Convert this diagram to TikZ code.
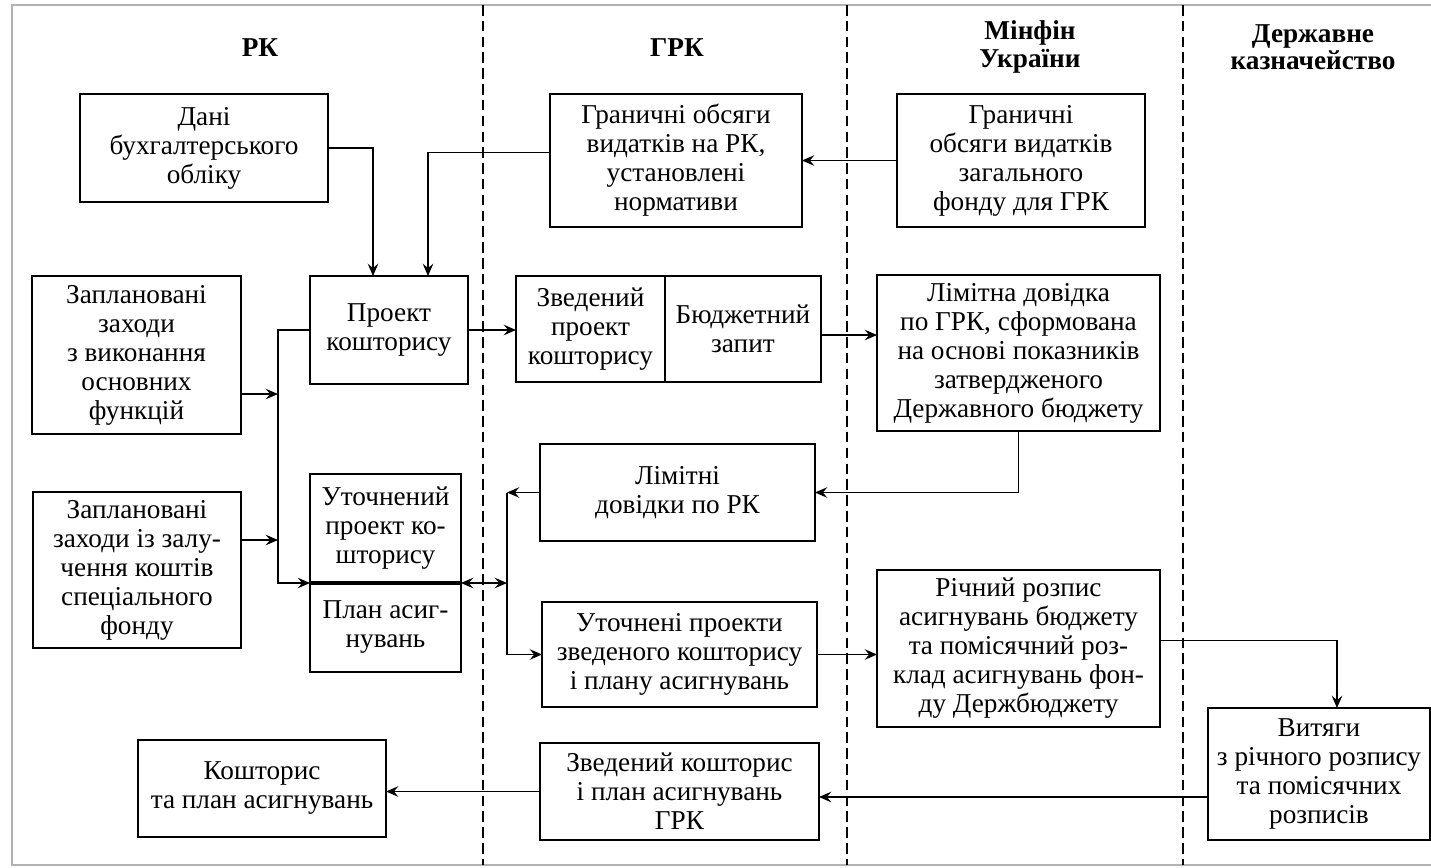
\documentclass[tikz,border=0pt]{standalone}
\usepackage{fontspec}
\setmainfont{LiberationSerif}[Extension=.ttf, UprightFont=*-Regular, BoldFont=*-Bold, ItalicFont=*-Italic, BoldItalicFont=*-BoldItalic]
\usepackage{tikz}
\usetikzlibrary{arrows.meta, positioning, calc}

\begin{document}
\begin{tikzpicture}[
    x=0.02cm, y=-0.02cm,
    box/.style={draw, rectangle, line width=1pt, outer sep=0pt, text centered, align=center, inner sep=1pt, font=\fontsize{15.5}{16.5}\selectfont},
    head/.style={align=center, font=\fontsize{15.5}{15.5}\selectfont\bfseries},
    arrow/.style={->, line width=0.8pt},
    lane/.style={line width=0.8pt, dash pattern=on 6pt off 3pt},
    >={Stealth[length=7pt,width=6pt,inset=2.5pt]}
]
\useasboundingbox (0,0) rectangle (1431,867);

% Frame and lanes
\draw[gray!60, line width=1.4pt] (1431,5) -- (12,5) -- (12,865) -- (1431,865);
\foreach \x in {483,847,1183}
    \draw[lane] (\x,5) -- (\x,865);

\node (hRK) [head] at (260,48) {РК};
\node (hGRK) [head] at (677,48) {ГРК};
\node (hMF) [head] at (1030,47) {Мінфін\\України};
\node (hDK) [head] at (1313,47) {Державне\\казначейство};

% РК column
\node (dani) [box, minimum width=4.96cm, minimum height=2.16cm] at (204,148) {Дані\\бухгалтерського\\обліку};
\node (zakh1) [box, minimum width=4.18cm, minimum height=3.16cm] at (136.5,355) {Заплановані\\заходи\\з виконання\\основних\\функцій};
\node (zakh2) [box, minimum width=4.16cm, minimum height=3.12cm] at (137,570) {Заплановані\\заходи із залу-\\чення коштів\\спеціального\\фонду};
\node (proekt) [box, minimum width=3.16cm, minimum height=2.16cm] at (389,330) {Проект\\кошторису};
\node (utochn) [box, minimum width=3.02cm, minimum height=2.18cm] at (385.5,528.5) {Уточнений\\проект ко-\\шторису};
\node (plan) [box, below=0pt of utochn, minimum width=3.02cm, minimum height=1.78cm] {План асиг-\\нувань};
\node (koshtorys) [box, minimum width=4.96cm, minimum height=1.94cm] at (262,788.5) {Кошторис\\та план асигнувань};

% ГРК column
\node (granRK) [box, minimum width=5.04cm, minimum height=2.66cm] at (676,160.5) {Граничні обсяги\\видатків на РК,\\установлені\\нормативи};
\node (zvedproekt) [box, minimum width=2.98cm, minimum height=2.12cm] at (590.5,329) {Зведений\\проект\\кошторису};
\node (zapyt) [box, right=0pt of zvedproekt, minimum width=3.12cm, minimum height=2.12cm] {Бюджетний\\запит};
\node (limitRK) [box, minimum width=5.5cm, minimum height=1.94cm] at (677.5,492.5) {Лімітні\\довідки по РК};
\node (utochneni) [box, minimum width=5.5cm, minimum height=2.1cm] at (679.5,654.5) {Уточнені проекти\\зведеного кошторису\\і плану асигнувань};
\node (zvedkosh) [box, minimum width=5.58cm, minimum height=1.94cm] at (679.5,791.5) {Зведений кошторис\\і план асигнувань\\ГРК};

% Мінфін column
\node (granGRK) [box, minimum width=4.96cm, minimum height=2.66cm] at (1021,160.5) {Граничні\\обсяги видатків\\загального\\фонду для ГРК};
\node (limitGRK) [box, minimum width=5.66cm, minimum height=3.12cm] at (1018.5,353) {Лімітна довідка\\по ГРК, сформована\\на основі показників\\затвердженого\\Державного бюджету};
\node (rozpys) [box, minimum width=5.66cm, minimum height=3.14cm] at (1018.5,648.5) {Річний розпис\\асигнувань бюджету\\та помісячний роз-\\клад асигнувань фон-\\ду Держбюджету};

% Казначейство column
\node (vytyagy) [box, minimum width=4.44cm, minimum height=2.64cm] at (1319,774) {Витяги\\з річного розпису\\та помісячних\\розписів};

% Connectors
\coordinate (busL) at (278,330);
\coordinate (busR) at (507,492.5);
\coordinate (z1) at ($(zakh1.east)+(0,39)$);
\coordinate (z2) at ($(zakh2.east)+(0,-30)$);
\coordinate (r1) at ($(rozpys.east)+(0,-8)$);
\coordinate (v1) at ($(vytyagy.west)+(0,23)$);

\draw[arrow] (dani.east) -| ($(proekt.north)+(-16,0)$);
\draw[arrow] ($(granRK.west)+(0,-8)$) -| ($(proekt.north)+(39,0)$);
\draw[arrow] (granGRK) -- (granRK);
\draw[arrow] (proekt.east) -- (proekt.east -| zvedproekt.west);
\draw[arrow] ($(zapyt.east)+(0,6)$) -- ($(limitGRK.west)+(0,-18)$);

\draw[arrow] (proekt.west) -- (busL) |- (plan.north west);
\draw[arrow] (z1) -- (z1 -| busL);
\draw[arrow] (z2) -- (z2 -| busL);
\draw[line width=1.8pt] (plan.north west) -- (plan.north east);
\draw[<->, line width=0.8pt] (plan.north east) -- (plan.north east -| busR);

\draw[arrow] (limitGRK.south) |- (limitRK.east);
\draw[arrow] (limitRK.west) -- (busR);
\draw[arrow] (busR) |- (utochneni.west);
\draw[arrow] (utochneni.east) -- (utochneni.east -| rozpys.west);
\draw[arrow] (r1) -| ($(vytyagy.north)+(18,0)$);
\draw[arrow] (v1) -- (v1 -| zvedkosh.east);
\draw[arrow] (zvedkosh.west) -- (zvedkosh.west -| koshtorys.east);

\end{tikzpicture}
\end{document}
